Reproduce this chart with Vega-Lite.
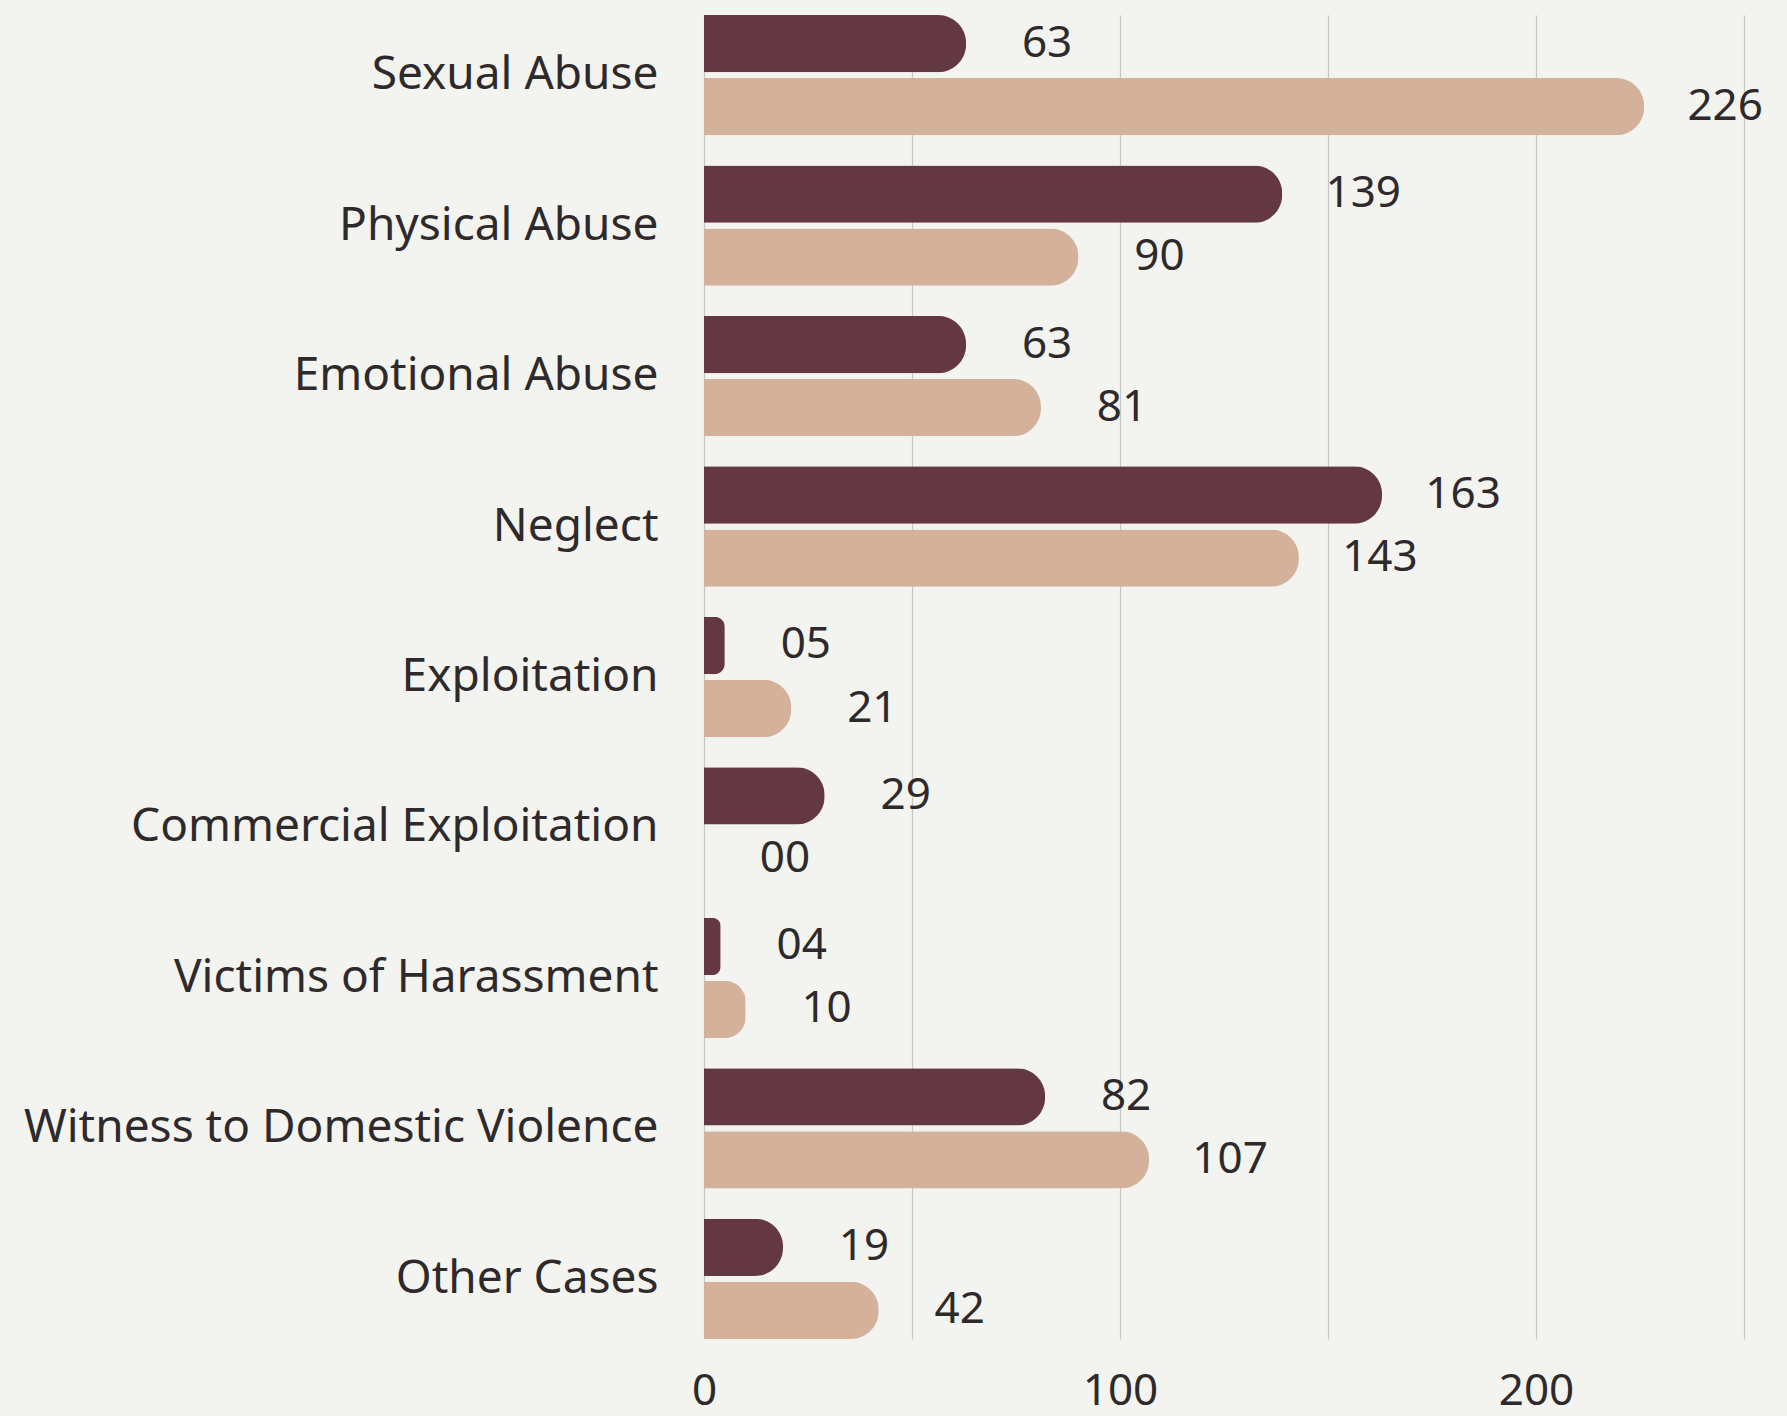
{
  "$schema": "https://vega.github.io/schema/vega-lite/v6.json",
  "autosize": "none",
  "padding": {"left": 704, "top": 15, "right": 43, "bottom": 77},
  "width": 1040,
  "height": 1324,
  "background": "#f3f3ef",
  "config": {
    "view": {"stroke": null},
    "font": "Noto Sans"
  },
  "data": {
    "values": [
      {"category": "Sexual Abuse", "series": "Series 1", "value": 63},
      {"category": "Sexual Abuse", "series": "Series 2", "value": 226},
      {"category": "Physical Abuse", "series": "Series 1", "value": 139},
      {"category": "Physical Abuse", "series": "Series 2", "value": 90},
      {"category": "Emotional Abuse", "series": "Series 1", "value": 63},
      {"category": "Emotional Abuse", "series": "Series 2", "value": 81},
      {"category": "Neglect", "series": "Series 1", "value": 163},
      {"category": "Neglect", "series": "Series 2", "value": 143},
      {"category": "Exploitation", "series": "Series 1", "value": 5},
      {"category": "Exploitation", "series": "Series 2", "value": 21},
      {"category": "Commercial Exploitation", "series": "Series 1", "value": 29},
      {"category": "Commercial Exploitation", "series": "Series 2", "value": 0},
      {"category": "Victims of Harassment\u2002", "series": "Series 1", "value": 4},
      {"category": "Victims of Harassment\u2002", "series": "Series 2", "value": 10},
      {"category": "Witness to Domestic Violence", "series": "Series 1", "value": 82},
      {"category": "Witness to Domestic Violence", "series": "Series 2", "value": 107},
      {"category": "Other Cases", "series": "Series 1", "value": 19},
      {"category": "Other Cases", "series": "Series 2", "value": 42}
    ]
  },
  "encoding": {
    "y": {
      "field": "category",
      "type": "nominal",
      "sort": null,
      "scale": {"paddingInner": 0.2, "paddingOuter": 0},
      "axis": {
        "title": null,
        "domain": false,
        "ticks": false,
        "labelPadding": 46,
        "labelFontSize": 46,
        "labelColor": "#2e2a2b",
        "labelFont": "Noto Sans",
        "labelLimit": 900
      }
    },
    "yOffset": {
      "field": "series",
      "type": "nominal",
      "scale": {"paddingInner": 0.09, "paddingOuter": 0}
    },
    "x": {
      "field": "value",
      "type": "quantitative",
      "scale": {"domain": [0, 250], "nice": false},
      "axis": {
        "title": null,
        "values": [0, 50, 100, 150, 200, 250],
        "labelExpr": "datum.value % 100 === 0 ? datum.label : ''",
        "labelFlush": false,
        "grid": true,
        "gridColor": "#c8c8c2",
        "gridWidth": 1.2,
        "domain": false,
        "ticks": false,
        "labelPadding": 30,
        "labelFontSize": 44,
        "labelColor": "#2e2a2b",
        "labelFont": "Noto Sans"
      }
    }
  },
  "layer": [
    {
      "mark": {"type": "bar", "cornerRadiusEnd": 28},
      "encoding": {
        "color": {
          "field": "series",
          "type": "nominal",
          "scale": {"domain": ["Series 1", "Series 2"], "range": ["#633842", "#d4b19b"]},
          "legend": null
        }
      }
    },
    {
      "mark": {
        "type": "text",
        "align": "center",
        "baseline": "middle",
        "dx": 81,
        "fontSize": 44,
        "color": "#2e2a2b",
        "font": "Noto Sans"
      },
      "encoding": {
        "text": {"field": "value", "type": "quantitative", "format": "02d"}
      }
    }
  ]
}
